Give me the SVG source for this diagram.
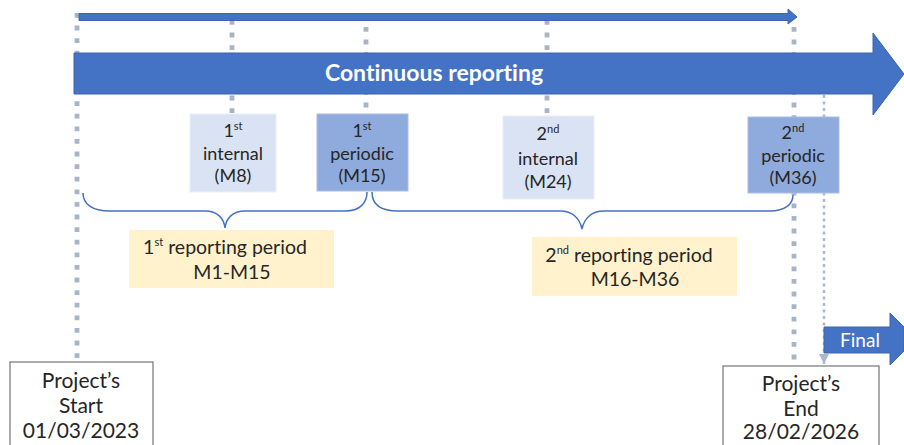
<svg xmlns="http://www.w3.org/2000/svg" width="904" height="445" viewBox="0 0 904 445">
<defs>
<style>
.dot{stroke:#A9B5C7;stroke-width:4.8;stroke-dasharray:4.8 7.8;fill:none}
.dotthin{stroke:#ADB9CA;stroke-width:2.5;stroke-dasharray:3 3.5;fill:none}
.arrow{fill:#4472C4;stroke:#3B65B3;stroke-width:1}
.light{fill:#DAE3F3;stroke:#E9EEF7;stroke-width:1}
.mid{fill:#8FAADC;stroke:#A9BEE6;stroke-width:1}
.yel{fill:#FFF2CC}
.brace{fill:none;stroke:#4472C4;stroke-width:1.5}
.t{font-family:Lato,"Open Sans","Liberation Sans",sans-serif;fill:#262626;text-anchor:middle;font-variant-ligatures:none}
.box{font-size:18px}
.rp{font-size:19.5px}
.pb{font-size:21px}
.sup{font-size:11px}
.w{fill:#FFFFFF}
.pbox{fill:#FFFFFF;stroke:#7F7F7F;stroke-width:1.3}
</style>
<marker id="ah" viewBox="0 0 10 10" refX="10" refY="5" markerWidth="4" markerHeight="4.8" orient="auto" markerUnits="strokeWidth">
<path d="M0,0 L10,5 L0,10 Z" fill="#ADB9CA"/>
</marker>
</defs>
<g id="connectors">
<line class="dot" x1="77" y1="13" x2="77" y2="361"/>
<line class="dot" x1="232" y1="20" x2="232" y2="114"/>
<line class="dot" x1="366" y1="27" x2="366" y2="114"/>
<line class="dot" x1="547" y1="20" x2="547" y2="116"/>
<line class="dot" x1="794" y1="27" x2="794" y2="364"/>
<line class="dotthin" x1="824" y1="95" x2="824" y2="364" marker-end="url(#ah)"/>
<path class="brace" d="M83,193 C83,204 92,211 110,211 L205,211 C218,211 224,219 225,228 C226,219 232,211 245,211 L345,211 C360,211 367,203 367,192"/>
<path class="brace" d="M372,192 C372,204 380,211 398,211 L560,211 C573,211 580,219 582,229 C584,219 591,211 604,211 L770,211 C785,211 793,204 793,195"/>
</g>
<g id="top-arrow">
<path class="arrow" d="M79,13.5 L788,13.5 L788,9 L797,17 L788,24 L788,20.5 L79,20.5 Z"/>
</g>
<g id="continuous-reporting">
<path class="arrow" d="M74,53 L873,53 L873,33 L904,74 L873,115 L873,94 L74,94 Z"/>
<text class="t w" x="434" y="81" font-size="23" font-weight="bold">Continuous reporting</text>
</g>
<g id="internal-1">
<rect class="light" x="190" y="114" width="86" height="78"/>
<text class="t box" x="233" y="137">1<tspan class="sup" dy="-7">st</tspan></text>
<text class="t box" x="233" y="160">internal</text>
<text class="t box" x="233" y="182">(M8)</text>
</g>
<g id="periodic-1">
<rect class="mid" x="317" y="114" width="91" height="77"/>
<text class="t box" x="362" y="137">1<tspan class="sup" dy="-7">st</tspan></text>
<text class="t box" x="362" y="160">periodic</text>
<text class="t box" x="362" y="182">(M15)</text>
</g>
<g id="internal-2">
<rect class="light" x="503" y="116" width="91" height="83"/>
<text class="t box" x="548" y="140">2<tspan class="sup" dy="-7">nd</tspan></text>
<text class="t box" x="548" y="165">internal</text>
<text class="t box" x="548" y="188">(M24)</text>
</g>
<g id="periodic-2">
<rect class="mid" x="748" y="117" width="91" height="76"/>
<text class="t box" x="793" y="139">2<tspan class="sup" dy="-7">nd</tspan></text>
<text class="t box" x="793" y="162">periodic</text>
<text class="t box" x="793" y="184">(M36)</text>
</g>
<g id="period-1">
<rect class="yel" x="129" y="230" width="205" height="58"/>
<text class="t rp" x="225" y="254">1<tspan class="sup" font-size="12" dy="-8">st</tspan><tspan dy="8"> reporting period</tspan></text>
<text class="t rp" x="232" y="279">M1-M15</text>
</g>
<g id="period-2">
<rect class="yel" x="532" y="237" width="205" height="59"/>
<text class="t rp" x="629" y="262">2<tspan class="sup" font-size="12" dy="-8">nd</tspan><tspan dy="8"> reporting period</tspan></text>
<text class="t rp" x="635" y="286">M16-M36</text>
</g>
<g id="final">
<path class="arrow" d="M824,327 L890,327 L890,313 L904,327 L904,351 L890,365 L890,353 L824,353 Z" stroke="none"/>
<text class="t w" x="860" y="347" font-size="19">Final</text>
</g>
<g id="project-start">
<rect class="pbox" x="10" y="362" width="143" height="90"/>
<text class="t pb" x="81" y="388">Project’s</text>
<text class="t pb" x="81" y="413">Start</text>
<text class="t pb" x="81" y="438">01/03/2023</text>
</g>
<g id="project-end">
<rect class="pbox" x="723" y="366" width="156" height="86"/>
<text class="t pb" x="801" y="391">Project’s</text>
<text class="t pb" x="801" y="416">End</text>
<text class="t pb" x="801" y="439">28/02/2026</text>
</g>
</svg>
